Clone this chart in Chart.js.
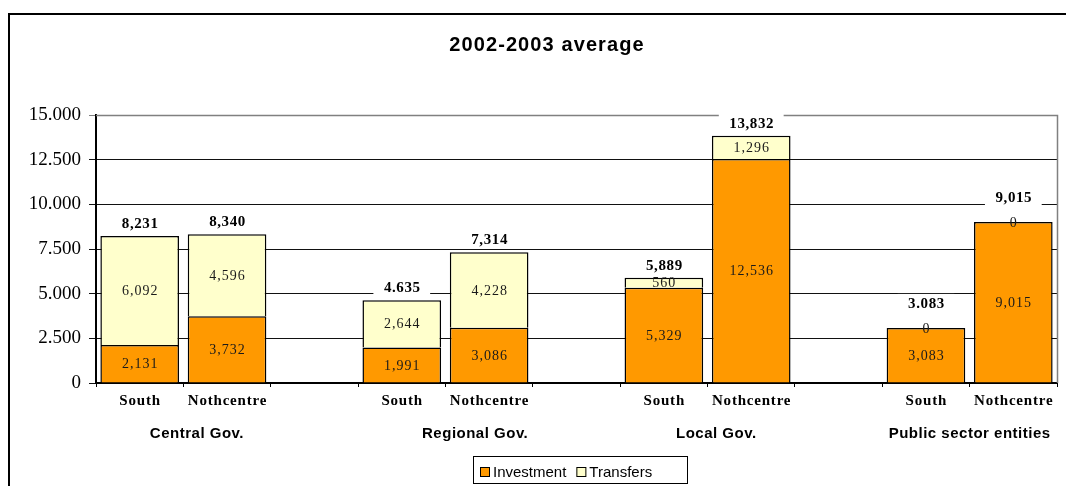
<!DOCTYPE html>
<html>
<head>
<meta charset="utf-8">
<script src="https://cdn.jsdelivr.net/npm/chart.js@4/dist/chart.umd.min.js"></script>
<style>
  html, body { margin: 0; padding: 0; background: #fff; overflow: hidden; }
  #wrap { position: relative; width: 1066px; height: 486px; }
</style>
</head>
<body>
<div id="wrap"><canvas id="c" width="1066" height="486"></canvas></div>
<script>
// Categories: two regions per government level, with an empty slot between levels
const categories = ['South', 'Nothcentre', '', 'South', 'Nothcentre', '', 'South', 'Nothcentre', '', 'South', 'Nothcentre'];
const groupNames = ['Central Gov.', 'Regional Gov.', 'Local Gov.', 'Public sector entities'];

// Series values
const investment = [2131, 3732, null, 1991, 3086, null, 5329, 12536, null, 3083, 9015];
const transfers  = [6092, 4596, null, 2644, 4228, null, 560, 1296, null, 0, 0];

// Totals printed above each bar
const totalLabels = ['8,231', '8,340', '', '4.635', '7,314', '', '5,889', '13,832', '', '3.083', '9,015'];

// Y axis ticks
const yTicks = [0, 2500, 5000, 7500, 10000, 12500, 15000];
const yTickLabels = ['0', '2.500', '5.000', '7.500', '10.000', '12.500', '15.000'];

const chartTitle = '2002-2003 average';

// Layout of the group captions (category-axis positions)
const groupAnchors = [0.655, 3.84, 6.6, 9.5];

const SERIF = '"Liberation Serif", "Times New Roman", serif';
const SANS = '"Liberation Sans", Arial, sans-serif';

const fmt = v => v.toLocaleString('en-US');

const decorations = {
  id: 'decorations',
  beforeDraw(chart) {
    const ctx = chart.ctx;
    ctx.save();
    ctx.fillStyle = '#fff';
    ctx.fillRect(0, 0, chart.width, chart.height);
    // outer frame (top and left edges)
    ctx.fillStyle = '#000';
    ctx.fillRect(8, 13, chart.width - 8, 2);
    ctx.fillRect(8, 13, 2, chart.height - 13);
    // title
    ctx.font = 'bold 20px ' + SANS;
    ctx.letterSpacing = '1.1px';
    ctx.textAlign = 'center';
    ctx.textBaseline = 'middle';
    ctx.fillText(chartTitle, 547, 45);
    ctx.restore();
  },
  beforeDatasetsDraw(chart) {
    // plot-area right edge
    const a = chart.chartArea, ctx = chart.ctx;
    ctx.save();
    ctx.strokeStyle = '#808080';
    ctx.lineWidth = 1.5;
    ctx.beginPath();
    ctx.moveTo(a.left, a.top + 0.5);
    ctx.lineTo(a.right + 0.5, a.top + 0.5);
    ctx.lineTo(a.right + 0.5, a.bottom);
    ctx.stroke();
    ctx.restore();
  },
  afterDatasetsDraw(chart) {
    const ctx = chart.ctx;
    ctx.save();
    ctx.textAlign = 'center';
    ctx.textBaseline = 'middle';

    // segment values
    ctx.font = '14px ' + SERIF;
    ctx.letterSpacing = '1px';
    ctx.fillStyle = '#1a1a1a';
    chart.data.datasets.forEach((ds, di) => {
      const meta = chart.getDatasetMeta(di);
      meta.data.forEach((bar, i) => {
        const v = ds.data[i];
        if (v === null || v === undefined) return;
        const cy = (bar.y + bar.base) / 2;
        ctx.fillText(fmt(v), bar.x + 0.5, cy + 1);
      });
    });

    // totals with white backing
    ctx.font = 'bold 15px ' + SERIF;
    ctx.letterSpacing = '0.6px';
    const topMeta = chart.getDatasetMeta(1);
    totalLabels.forEach((t, i) => {
      if (!t) return;
      const bar = topMeta.data[i];
      const off = transfers[i] === 0 ? 25 : 13;
      const cy = bar.y - off;
      const w = ctx.measureText(t).width + 20;
      ctx.fillStyle = '#fff';
      ctx.fillRect(bar.x - w / 2, cy - 9, w, 18);
      ctx.fillStyle = '#000';
      ctx.fillText(t, bar.x + 0.5, cy + 1);
    });
    ctx.restore();
  },
  afterDraw(chart) {
    const ctx = chart.ctx;
    const x = chart.scales.x;
    ctx.save();
    ctx.textAlign = 'center';
    ctx.textBaseline = 'middle';
    ctx.fillStyle = '#000';

    // category labels
    ctx.font = 'bold 15px ' + SERIF;
    ctx.letterSpacing = '0.8px';
    categories.forEach((c, i) => {
      if (!c) return;
      ctx.fillText(c, x.getPixelForValue(i) + 0.4, 401);
    });

    // group captions
    ctx.font = 'bold 15px ' + SANS;
    ctx.letterSpacing = '0.5px';
    groupNames.forEach((g, k) => {
      ctx.fillText(g, x.getPixelForValue(groupAnchors[k]), 434);
    });

    // legend
    ctx.letterSpacing = '0px';
    ctx.strokeStyle = '#000';
    ctx.lineWidth = 1;
    ctx.strokeRect(473.5, 456.5, 214, 27);
    ctx.font = '15px ' + SANS;
    ctx.textAlign = 'left';
    let lx = 480;
    chart.data.datasets.forEach(ds => {
      ctx.fillStyle = ds.backgroundColor;
      ctx.fillRect(lx, 467, 10, 10);
      ctx.strokeRect(lx + 0.5, 467.5, 9, 9);
      ctx.fillStyle = '#000';
      ctx.fillText(ds.label, lx + 13, 472.5);
      lx += 13 + ctx.measureText(ds.label).width + 10;
    });
    ctx.restore();
  }
};

new Chart(document.getElementById('c'), {
  type: 'bar',
  data: {
    labels: categories,
    datasets: [
      { label: 'Investment', data: investment, backgroundColor: '#FF9900', borderColor: '#000', borderWidth: 1.5, borderSkipped: 'start' },
      { label: 'Transfers', data: transfers, backgroundColor: '#FFFFCC', borderColor: '#000', borderWidth: 1.5, borderSkipped: 'start' }
    ]
  },
  options: {
    responsive: false,
    animation: false,
    events: [],
    layout: { padding: { left: 0, right: 9, top: 115, bottom: 0 } },
    datasets: { bar: { barPercentage: 0.9, categoryPercentage: 1.0 } },
    plugins: { legend: { display: false }, title: { display: false }, tooltip: { enabled: false } },
    scales: {
      x: {
        stacked: true,
        offset: true,
        grid: { offset: true, drawOnChartArea: false, drawTicks: true, tickLength: 4, color: '#000', lineWidth: 1 },
        border: { display: true, color: '#000', width: 2 },
        ticks: { display: false },
        afterFit: s => { s.height = 103; }
      },
      y: {
        stacked: true,
        min: 0,
        max: 15000,
        afterBuildTicks: s => { s.ticks = yTicks.map(v => ({ value: v })); },
        grid: {
          color: c => (c.tick && c.tick.value === 15000 ? '#808080' : '#111'),
          lineWidth: 1,
          drawTicks: true,
          tickLength: 7
        },
        border: { display: true, color: '#000', width: 2 },
        ticks: {
          padding: 8,
          color: '#000',
          font: { family: SERIF, size: 19 },
          callback: (v) => yTickLabels[yTicks.indexOf(v)]
        },
        afterFit: s => { s.width = 96; }
      }
    }
  },
  plugins: [decorations]
});
</script>
</body>
</html>
